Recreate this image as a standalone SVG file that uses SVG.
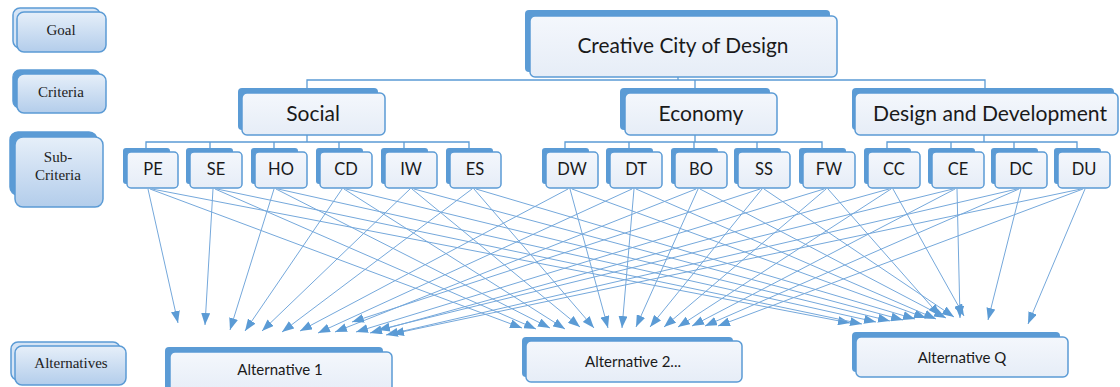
<svg xmlns="http://www.w3.org/2000/svg" width="1120" height="387" viewBox="0 0 1120 387">
<defs>
<linearGradient id="lg" x1="0" y1="0" x2="0" y2="1">
<stop offset="0" stop-color="#e6eff9"/>
<stop offset="1" stop-color="#b3cdeb"/>
</linearGradient>
<linearGradient id="ng" x1="0" y1="0" x2="0" y2="1">
<stop offset="0" stop-color="#f4f7fc"/>
<stop offset="1" stop-color="#e6edf7"/>
</linearGradient>
<marker id="ah" viewBox="0 0 12 9" refX="12" refY="4.5" markerWidth="12" markerHeight="9" orient="auto" markerUnits="userSpaceOnUse">
<path d="M0,0 L12,4.5 L0,9 z" fill="#5b9bd5"/>
</marker>
</defs>
<style>
.lb{fill:#d5e4f5;stroke:#5b9bd5;stroke-width:1.5}
.lbd{fill:#5b9bd5;stroke:#5b9bd5;stroke-width:1.5}
.lf{fill:url(#lg);stroke:#5b9bd5;stroke-width:1.5}
.lt{font-family:"Liberation Serif","Times New Roman",serif;font-size:15px;fill:#222;text-anchor:middle}
.nb{fill:#5b9bd5}
.nf{fill:url(#ng);stroke:#5b9bd5;stroke-width:1.5}
.nt{font-family:Lato,"Liberation Sans",sans-serif;fill:#1a1a1a;text-anchor:middle}
.tree{fill:none;stroke:#5b9bd5;stroke-width:1.3}
.ar{stroke:#75a8db;stroke-width:1;fill:none;marker-end:url(#ah)}
</style>

<g id="legend-goal">
<rect class="lb" x="13" y="8" width="87" height="40" rx="7"/>
<rect class="lf" x="17" y="12" width="89" height="40" rx="7"/>
<text class="lt" x="61" y="35">Goal</text>
</g>
<g id="legend-criteria">
<rect class="lbd" x="13" y="70" width="87" height="38" rx="7"/>
<rect class="lf" x="17" y="74" width="89" height="39" rx="7"/>
<text class="lt" x="61" y="97">Criteria</text>
</g>
<g id="legend-subcriteria">
<rect class="lbd" x="10" y="132" width="87" height="63" rx="8"/>
<rect class="lf" x="15" y="137" width="88" height="70" rx="8"/>
<text class="lt" x="58" y="162">Sub-</text>
<text class="lt" x="58" y="180">Criteria</text>
</g>
<g id="legend-alternatives">
<rect class="lb" x="11" y="342" width="109" height="38" rx="7"/>
<rect class="lf" x="15" y="346" width="111" height="39" rx="7"/>
<text class="lt" x="71" y="368">Alternatives</text>
</g>

<g id="tree-lines">
<path class="tree" d="M678,77 V80 M307,88 V80 H985 V88 M695,80 V88"/>
<path class="tree" d="M307,135 V142 M146,148 V142 H469 V148 M210,142 V148 M274,142 V148 M339,142 V148 M404,142 V148"/>
<path class="tree" d="M695,135 V142 M565,148 V142 H822 V148 M629,142 V148 M694,142 V148 M757,142 V148"/>
<path class="tree" d="M984,135 V142 M887,148 V142 H1077 V148 M951,142 V148 M1014,142 V148"/>
</g>

<g id="goal">
<rect class="nb" x="525" y="10" width="305" height="62" rx="4"/>
<rect class="nf" x="530" y="16" width="307" height="61" rx="5"/>
<text class="nt" x="683" y="53" font-size="21" textLength="211" lengthAdjust="spacingAndGlyphs">Creative City of Design</text>
</g>

<g id="c-social">
<rect class="nb" x="238" y="88" width="140" height="42" rx="4"/>
<rect class="nf" x="242" y="93" width="143" height="42" rx="5"/>
<text class="nt" x="313" y="121" font-size="21">Social</text>
</g>
<g id="c-economy">
<rect class="nb" x="620" y="88" width="150" height="42" rx="4"/>
<rect class="nf" x="625" y="93" width="152" height="42" rx="5"/>
<text class="nt" x="701" y="121" font-size="21">Economy</text>
</g>
<g id="c-design">
<rect class="nb" x="852" y="88" width="262" height="42" rx="4"/>
<rect class="nf" x="855" y="93" width="263" height="42" rx="5"/>
<text class="nt" x="990" y="121" font-size="21" textLength="234" lengthAdjust="spacingAndGlyphs">Design and Development</text>
</g>

<g id="s-PE"><rect class="nb" x="123" y="148" width="47" height="36" rx="3"/><rect class="nf" x="127" y="152" width="51" height="36" rx="4"/><text class="nt" x="153" y="175" font-size="16.5">PE</text></g>
<g id="s-SE"><rect class="nb" x="186" y="148" width="47" height="36" rx="3"/><rect class="nf" x="190" y="152" width="52" height="36" rx="4"/><text class="nt" x="216" y="175" font-size="16.5">SE</text></g>
<g id="s-HO"><rect class="nb" x="251" y="148" width="47" height="36" rx="3"/><rect class="nf" x="255" y="152" width="52" height="36" rx="4"/><text class="nt" x="281" y="175" font-size="16.5">HO</text></g>
<g id="s-CD"><rect class="nb" x="316" y="148" width="47" height="36" rx="3"/><rect class="nf" x="320" y="152" width="52" height="36" rx="4"/><text class="nt" x="346" y="175" font-size="16.5">CD</text></g>
<g id="s-IW"><rect class="nb" x="381" y="148" width="47" height="36" rx="3"/><rect class="nf" x="385" y="152" width="52" height="36" rx="4"/><text class="nt" x="411" y="175" font-size="16.5">IW</text></g>
<g id="s-ES"><rect class="nb" x="446" y="148" width="47" height="36" rx="3"/><rect class="nf" x="450" y="152" width="51" height="36" rx="4"/><text class="nt" x="475" y="175" font-size="16.5">ES</text></g>
<g id="s-DW"><rect class="nb" x="542" y="148" width="47" height="36" rx="3"/><rect class="nf" x="546" y="152" width="52" height="36" rx="4"/><text class="nt" x="572" y="175" font-size="16.5">DW</text></g>
<g id="s-DT"><rect class="nb" x="606" y="148" width="47" height="36" rx="3"/><rect class="nf" x="610" y="152" width="52" height="36" rx="4"/><text class="nt" x="636" y="175" font-size="16.5">DT</text></g>
<g id="s-BO"><rect class="nb" x="671" y="148" width="47" height="36" rx="3"/><rect class="nf" x="675" y="152" width="52" height="36" rx="4"/><text class="nt" x="701" y="175" font-size="16.5">BO</text></g>
<g id="s-SS"><rect class="nb" x="734" y="148" width="47" height="36" rx="3"/><rect class="nf" x="738" y="152" width="52" height="36" rx="4"/><text class="nt" x="764" y="175" font-size="16.5">SS</text></g>
<g id="s-FW"><rect class="nb" x="799" y="148" width="47" height="36" rx="3"/><rect class="nf" x="803" y="152" width="52" height="36" rx="4"/><text class="nt" x="829" y="175" font-size="16.5">FW</text></g>
<g id="s-CC"><rect class="nb" x="864" y="148" width="47" height="36" rx="3"/><rect class="nf" x="868" y="152" width="52" height="36" rx="4"/><text class="nt" x="894" y="175" font-size="16.5">CC</text></g>
<g id="s-CE"><rect class="nb" x="928" y="148" width="47" height="36" rx="3"/><rect class="nf" x="932" y="152" width="52" height="36" rx="4"/><text class="nt" x="958" y="175" font-size="16.5">CE</text></g>
<g id="s-DC"><rect class="nb" x="991" y="148" width="47" height="36" rx="3"/><rect class="nf" x="995" y="152" width="52" height="36" rx="4"/><text class="nt" x="1021" y="175" font-size="16.5">DC</text></g>
<g id="s-DU"><rect class="nb" x="1054" y="148" width="47" height="36" rx="3"/><rect class="nf" x="1058" y="152" width="52" height="36" rx="4"/><text class="nt" x="1084" y="175" font-size="16.5">DU</text></g>

<g id="connectors">
<line class="ar" x1="148" y1="189" x2="178" y2="323"/>
<line class="ar" x1="150" y1="189" x2="522" y2="328"/>
<line class="ar" x1="152" y1="189" x2="850" y2="323"/>
<line class="ar" x1="213" y1="189" x2="205" y2="325"/>
<line class="ar" x1="215" y1="189" x2="536" y2="329"/>
<line class="ar" x1="217" y1="189" x2="862" y2="324"/>
<line class="ar" x1="274" y1="189" x2="230" y2="330"/>
<line class="ar" x1="276" y1="189" x2="550" y2="328"/>
<line class="ar" x1="278" y1="189" x2="876" y2="322"/>
<line class="ar" x1="342" y1="189" x2="245" y2="331"/>
<line class="ar" x1="344" y1="189" x2="565" y2="329"/>
<line class="ar" x1="346" y1="189" x2="890" y2="321"/>
<line class="ar" x1="410" y1="189" x2="262" y2="331"/>
<line class="ar" x1="412" y1="189" x2="580" y2="327"/>
<line class="ar" x1="414" y1="189" x2="903" y2="320"/>
<line class="ar" x1="472" y1="189" x2="282" y2="332"/>
<line class="ar" x1="474" y1="189" x2="594" y2="328"/>
<line class="ar" x1="476" y1="189" x2="915" y2="319"/>
<line class="ar" x1="568" y1="189" x2="300" y2="331"/>
<line class="ar" x1="570" y1="189" x2="608" y2="328"/>
<line class="ar" x1="572" y1="189" x2="926" y2="318"/>
<line class="ar" x1="632" y1="189" x2="318" y2="333"/>
<line class="ar" x1="634" y1="189" x2="622" y2="328"/>
<line class="ar" x1="636" y1="189" x2="936" y2="319"/>
<line class="ar" x1="696" y1="189" x2="335" y2="332"/>
<line class="ar" x1="698" y1="189" x2="636" y2="327"/>
<line class="ar" x1="700" y1="189" x2="946" y2="318"/>
<line class="ar" x1="760" y1="189" x2="352" y2="322"/>
<line class="ar" x1="762" y1="189" x2="650" y2="327"/>
<line class="ar" x1="764" y1="189" x2="954" y2="317"/>
<line class="ar" x1="824" y1="189" x2="356" y2="332"/>
<line class="ar" x1="826" y1="189" x2="664" y2="327"/>
<line class="ar" x1="828" y1="189" x2="940" y2="316"/>
<line class="ar" x1="889" y1="189" x2="370" y2="333"/>
<line class="ar" x1="891" y1="189" x2="678" y2="327"/>
<line class="ar" x1="893" y1="189" x2="964" y2="316"/>
<line class="ar" x1="953" y1="189" x2="378" y2="330"/>
<line class="ar" x1="955" y1="189" x2="692" y2="326"/>
<line class="ar" x1="957" y1="189" x2="960" y2="318"/>
<line class="ar" x1="1017" y1="189" x2="386" y2="335"/>
<line class="ar" x1="1019" y1="189" x2="705" y2="326"/>
<line class="ar" x1="1021" y1="189" x2="988" y2="320"/>
<line class="ar" x1="1081" y1="189" x2="392" y2="334"/>
<line class="ar" x1="1083" y1="189" x2="718" y2="326"/>
<line class="ar" x1="1085" y1="189" x2="1028" y2="324"/>
</g>

<g id="alt-1">
<rect class="nb" x="165" y="347" width="218" height="45" rx="4"/>
<rect class="nf" x="170" y="352" width="222" height="42" rx="5"/>
<text class="nt" x="280" y="375" font-size="15">Alternative 1</text>
</g>
<g id="alt-2">
<rect class="nb" x="522" y="337" width="211" height="40" rx="4"/>
<rect class="nf" x="526" y="341" width="216" height="41" rx="5"/>
<text class="nt" x="633" y="367" font-size="15">Alternative 2...</text>
</g>
<g id="alt-q">
<rect class="nb" x="852" y="332" width="208" height="40" rx="4"/>
<rect class="nf" x="856" y="337" width="212" height="40" rx="5"/>
<text class="nt" x="962" y="363" font-size="15">Alternative Q</text>
</g>
</svg>
